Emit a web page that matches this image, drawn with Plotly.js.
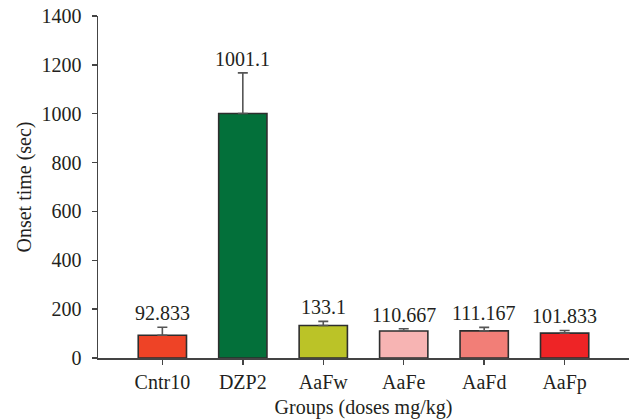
<!DOCTYPE html>
<html>
<head>
<meta charset="utf-8">
<script src="https://cdn.plot.ly/plotly-3.0.1.min.js"></script>
<style>html,body{margin:0;padding:0;background:#fff;}#chart{width:632px;height:419px;}</style>
</head>
<body>
<div id="chart"></div>
<script>
const categories = ["Cntr10", "DZP2", "AaFw", "AaFe", "AaFd", "AaFp"];
const means = [92.833, 1001.1, 133.1, 110.667, 111.167, 101.833];
const errors = [33, 166, 17, 9, 14, 11];
const valueLabels = ["92.833", "1001.1", "133.1", "110.667", "111.167", "101.833"];
const barColors = ["#EE4326", "#03703A", "#BBC327", "#F7B4B3", "#F27E77", "#EE2426"];
const yTicks = [0, 200, 400, 600, 800, 1000, 1200, 1400];

const fontFam = "Liberation Serif, Times New Roman, serif";
const textColor = "#231F20";
const fs = 20;

const trace = {
  type: "bar",
  x: categories,
  y: means,
  width: 0.6,
  marker: { color: barColors, line: { color: "#2E2E2E", width: 1.6 } },
  error_y: {
    type: "data", symmetric: false, array: errors,
    arrayminus: errors.map(() => 0),
    color: "#555555", thickness: 1.6, width: 5
  },
  hoverinfo: "none"
};

const annotations = categories.map((c, i) => ({
  x: c, y: means[i] + errors[i], xref: "x", yref: "y",
  text: valueLabels[i], showarrow: false, yanchor: "bottom", yshift: 1,
  font: { family: fontFam, size: fs, color: textColor }
}));

const layout = {
  width: 632, height: 419,
  margin: { l: 98, r: 3, t: 16, b: 61 },
  paper_bgcolor: "#fff", plot_bgcolor: "#fff",
  showlegend: false,
  font: { family: fontFam, size: fs, color: textColor },
  xaxis: {
    range: [-0.8, 5.8], showline: true, linecolor: "#444", linewidth: 1.5,
    ticks: "outside", ticklen: 5, tickcolor: "#444", tickwidth: 1.5,
    showgrid: false, zeroline: false, fixedrange: true,
    tickfont: { family: fontFam, size: fs, color: textColor },
    title: { text: "Groups (doses mg/kg)", standoff: 7, font: { family: fontFam, size: fs, color: textColor } }
  },
  yaxis: {
    range: [0, 1400], tickvals: yTicks, ticktext: yTicks.map(String),
    showline: true, linecolor: "#444", linewidth: 1.5,
    ticks: "outside", ticklen: 5, tickcolor: "#444", tickwidth: 1.5,
    ticklabelstandoff: 6,
    showgrid: false, zeroline: false, fixedrange: true,
    tickfont: { family: fontFam, size: fs, color: textColor },
    title: { text: "Onset time (sec)", standoff: 4, font: { family: fontFam, size: fs, color: textColor } }
  },
  annotations: annotations
};

Plotly.newPlot("chart", [trace], layout, { displayModeBar: false, staticPlot: true });
</script>
</body>
</html>
